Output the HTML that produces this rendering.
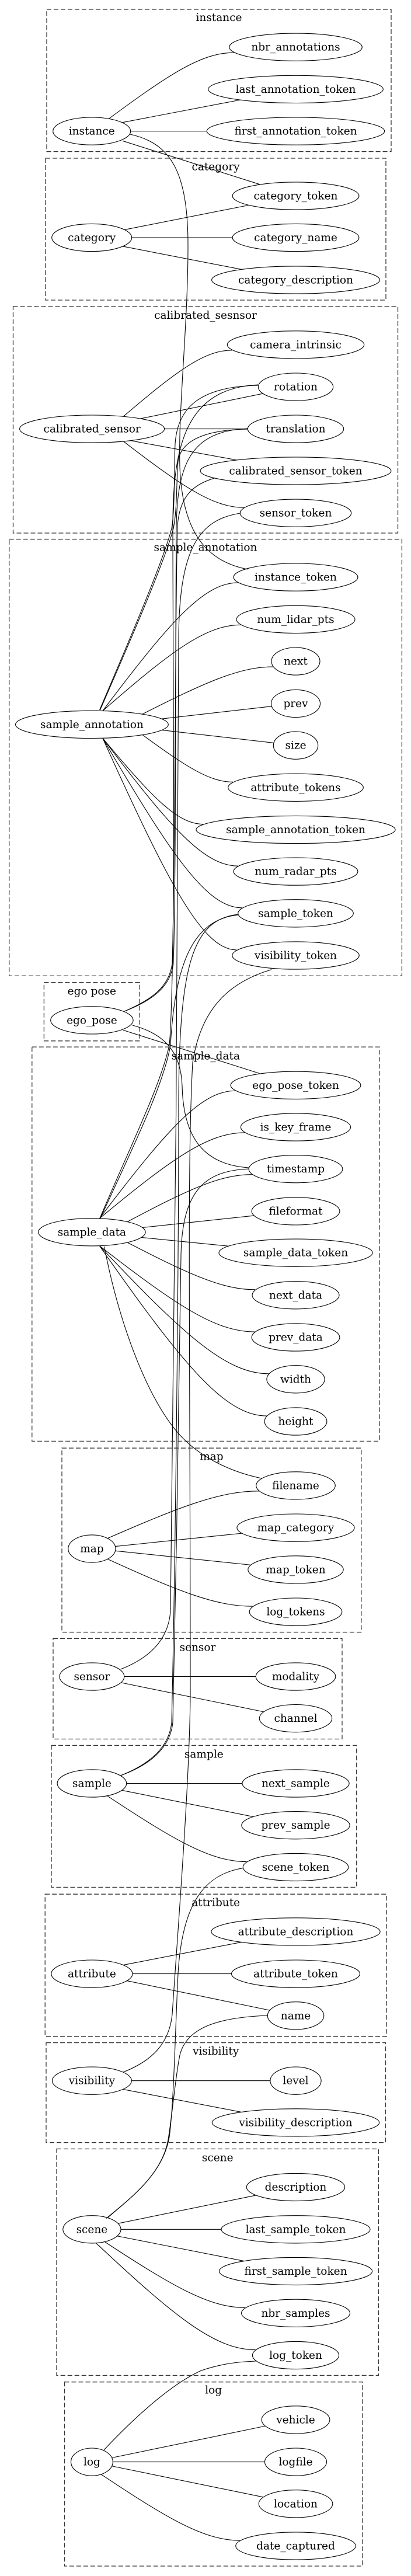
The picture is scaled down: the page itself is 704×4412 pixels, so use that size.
<!DOCTYPE html>
<html><head><meta charset="utf-8"><style>
html,body{margin:0;padding:0;background:#fff;}
svg{display:block;}
text{font-family:"DejaVu Serif","Liberation Serif",serif;font-size:18.5px;fill:#000;text-anchor:middle;}
.cl{fill:none;stroke:#333;stroke-width:1.3;stroke-dasharray:8,4;}
.n{fill:none;stroke:#000;stroke-width:1.1;}
.e{fill:none;stroke:#000;stroke-width:1.1;}
</style></head><body>
<svg id="s" width="704" height="4412" viewBox="0 0 704 4412" xmlns="http://www.w3.org/2000/svg">
<g id="edges">
<path class="e" d="M209.7,241.2 L444.6,315.7"/>
<path class="e" d="M223,230 C290,245 322,290 322,420 C322,560 305,700 308,800 C312,900 345,960 424,975"/>
<path class="e" d="M170.6,1216 C220,1100 280,960 294,905 C300,870 298,800 300,760 C304,700 340,662 442,660"/>
<path class="e" d="M171.5,1216 C222,1100 283,960 297,905 C304,870 302,820 305,790 C310,755 350,736 424.8,735"/>
<path class="e" d="M213.3,1732 C260,1712 290,1690 295,1650 C300,1500 296,1100 296,900 C296,760 320,665 442,659"/>
<path class="e" d="M213.3,1732 C262,1713 292,1690 297,1650 C302,1500 300,1100 302,900 C304,790 330,738 424.8,734"/>
<path class="e" d="M206.6,3041 C260,3020 290,2990 294,2950 C300,2700 306,2200 306,1900 C306,1650 330,1575 408,1566"/>
<path class="e" d="M206.6,3041 C262,3021 292,2990 296,2950 C302,2700 308,2300 310,2150 C312,2040 350,2005 426.6,2002"/>
<path class="e" d="M206.6,2859 C255,2840 288,2810 292,2760 C298,2400 306,1500 306,1100 C306,940 340,890 411.8,879"/>
<path class="e" d="M170.6,2087.6 C220,1970 275,1860 290,1790 C300,1700 300,1000 304,900 C308,850 330,830 368,818.7"/>
<path class="e" d="M171.5,2087.6 C225,1970 280,1860 292,1790 C300,1650 330,1575 408,1567"/>
<path class="e" d="M226.8,1756 C280,1770 310,1800 312,1860 C314,1950 350,1995 426.6,2000"/>
<path class="e" d="M178.7,2134.8 C200,2250 250,2400 314,2464 C350,2500 400,2522 448,2532"/>
<path class="e" d="M211,3549 C260,3530 290,3500 295,3450 C305,3300 325,3050 326,2900 C326,2300 320,2000 330,1820 C345,1720 400,1680 465,1660.6"/>
<path class="e" d="M184,3798.5 C230,3760 280,3720 290,3660 C298,3600 300,3480 305,3380 C312,3260 350,3210 416.7,3199.4"/>
<path class="e" d="M182,3799.5 C228,3762 278,3722 288,3665 C298,3600 300,3560 308,3520 C320,3470 380,3455 459,3452"/>
<path class="e" d="M177.4,4196.8 C240,4130 300,4080 345,4060 C380,4048 410,4045 437.8,4044"/>
<path class="e" d="M211,1764.4 L444.5,1838.5"/>
</g>
<rect class="cl" x="80" y="16" width="590" height="243.6"/><text x="375" y="36">instance</text>
<rect class="cl" x="78" y="271" width="583" height="243"/><text x="369.5" y="291.5">category</text>
<rect class="cl" x="22.5" y="525" width="659" height="388"/><text x="352" y="546">calibrated_sesnsor</text>
<rect class="cl" x="15.7" y="923.5" width="672.7" height="747.9"/><text x="352" y="943.6">sample_annotation</text>
<rect class="cl" x="75.4" y="1682.7" width="163.9" height="100.1"/><text x="157.3" y="1703.4">ego pose</text>
<rect class="cl" x="54.8" y="1793.2" width="595" height="675.2"/><text x="352.3" y="1814.3">sample_data</text>
<rect class="cl" x="106" y="2480.2" width="512.8" height="315.3"/><text x="362.4" y="2500.4">map</text>
<rect class="cl" x="91" y="2806.3" width="495" height="172.2"/><text x="338.5" y="2827.4">sensor</text>
<rect class="cl" x="88" y="2989.4" width="522.7" height="243"/><text x="349.3" y="3010.5">sample</text>
<rect class="cl" x="77.2" y="3244.2" width="585.1" height="243.5"/><text x="369.7" y="3264.4">attribute</text>
<rect class="cl" x="79" y="3498.6" width="581.5" height="171"/><text x="369.7" y="3519.2">visibility</text>
<rect class="cl" x="97" y="3680.5" width="551.4" height="387.9"/><text x="372.7" y="3701.6">scene</text>
<rect class="cl" x="110.5" y="4079.7" width="510.5" height="315.3"/><text x="365.7" y="4099.4">log</text>
<g>
<ellipse class="n" cx="157.2" cy="224.6" rx="66.5" ry="23.6"/><text x="157.2" y="230.6">instance</text>
<ellipse class="n" cx="506.5" cy="80.7" rx="113.8" ry="23.6"/><text x="506.5" y="86.7">nbr_annotations</text>
<ellipse class="n" cx="506.5" cy="152.9" rx="149.8" ry="23.6"/><text x="506.5" y="158.9">last_annotation_token</text>
<ellipse class="n" cx="506.5" cy="224.6" rx="152.2" ry="23.6"/><text x="506.5" y="230.6">first_annotation_token</text>
<ellipse class="n" cx="157.2" cy="407" rx="68.5" ry="23.6"/><text x="157.2" y="413">category</text>
<ellipse class="n" cx="506.5" cy="335.5" rx="108.4" ry="23.6"/><text x="506.5" y="341.5">category_token</text>
<ellipse class="n" cx="506.5" cy="407" rx="108.4" ry="23.6"/><text x="506.5" y="413">category_name</text>
<ellipse class="n" cx="506.5" cy="479.5" rx="143.9" ry="23.6"/><text x="506.5" y="485.5">category_description</text>
<ellipse class="n" cx="157.6" cy="734.6" rx="124" ry="23.6"/><text x="157.6" y="740.6">calibrated_sensor</text>
<ellipse class="n" cx="506.5" cy="590.4" rx="117.2" ry="23.6"/><text x="506.5" y="596.4">camera_intrinsic</text>
<ellipse class="n" cx="506.5" cy="662.6" rx="64.2" ry="23.6"/><text x="506.5" y="668.6">rotation</text>
<ellipse class="n" cx="506.5" cy="734.6" rx="82.2" ry="23.6"/><text x="506.5" y="740.6">translation</text>
<ellipse class="n" cx="506.5" cy="806.5" rx="163.4" ry="23.6"/><text x="506.5" y="812.5">calibrated_sensor_token</text>
<ellipse class="n" cx="506.5" cy="878.7" rx="95.2" ry="23.6"/><text x="506.5" y="884.7">sensor_token</text>
<ellipse class="n" cx="157.4" cy="1240.9" rx="130.9" ry="23.6"/><text x="157.4" y="1246.9">sample_annotation</text>
<ellipse class="n" cx="506.5" cy="988.6" rx="106.4" ry="23.6"/><text x="506.5" y="994.6">instance_token</text>
<ellipse class="n" cx="506.5" cy="1060.9" rx="101.5" ry="23.6"/><text x="506.5" y="1066.9">num_lidar_pts</text>
<ellipse class="n" cx="506.5" cy="1132.6" rx="41.5" ry="23.6"/><text x="506.5" y="1138.6">next</text>
<ellipse class="n" cx="506.5" cy="1205" rx="42" ry="23.6"/><text x="506.5" y="1211">prev</text>
<ellipse class="n" cx="506.5" cy="1276.7" rx="38.2" ry="23.6"/><text x="506.5" y="1282.7">size</text>
<ellipse class="n" cx="506.5" cy="1348.8" rx="115.8" ry="23.6"/><text x="506.5" y="1354.8">attribute_tokens</text>
<ellipse class="n" cx="506.5" cy="1421" rx="170.6" ry="23.6"/><text x="506.5" y="1427">sample_annotation_token</text>
<ellipse class="n" cx="506.5" cy="1492.6" rx="106.4" ry="23.6"/><text x="506.5" y="1498.6">num_radar_pts</text>
<ellipse class="n" cx="506.5" cy="1564.3" rx="98.8" ry="23.6"/><text x="506.5" y="1570.3">sample_token</text>
<ellipse class="n" cx="506.5" cy="1636.5" rx="108.7" ry="23.6"/><text x="506.5" y="1642.5">visibility_token</text>
<ellipse class="n" cx="157.4" cy="1747.4" rx="70.7" ry="23.6"/><text x="157.4" y="1753.4">ego_pose</text>
<ellipse class="n" cx="157.4" cy="2110.3" rx="91.8" ry="23.6"/><text x="157.4" y="2116.3">sample_data</text>
<ellipse class="n" cx="506.5" cy="1858.8" rx="111.4" ry="23.6"/><text x="506.5" y="1864.8">ego_pose_token</text>
<ellipse class="n" cx="506.5" cy="1930.5" rx="94.1" ry="23.6"/><text x="506.5" y="1936.5">is_key_frame</text>
<ellipse class="n" cx="506.5" cy="2002.2" rx="80.4" ry="23.6"/><text x="506.5" y="2008.2">timestamp</text>
<ellipse class="n" cx="506.5" cy="2074.4" rx="75.4" ry="23.6"/><text x="506.5" y="2080.4">fileformat</text>
<ellipse class="n" cx="506.5" cy="2145.7" rx="131.6" ry="23.6"/><text x="506.5" y="2151.7">sample_data_token</text>
<ellipse class="n" cx="506.5" cy="2218.3" rx="74.5" ry="23.6"/><text x="506.5" y="2224.3">next_data</text>
<ellipse class="n" cx="506.5" cy="2290.5" rx="75.4" ry="23.6"/><text x="506.5" y="2296.5">prev_data</text>
<ellipse class="n" cx="506.5" cy="2362.3" rx="49.6" ry="23.6"/><text x="506.5" y="2368.3">width</text>
<ellipse class="n" cx="506.5" cy="2434.5" rx="53.4" ry="23.6"/><text x="506.5" y="2440.5">height</text>
<ellipse class="n" cx="157.4" cy="2652.5" rx="40.6" ry="23.6"/><text x="157.4" y="2658.5">map</text>
<ellipse class="n" cx="506.5" cy="2544.4" rx="67.8" ry="23.6"/><text x="506.5" y="2550.4">filename</text>
<ellipse class="n" cx="506.5" cy="2616.6" rx="100.6" ry="23.6"/><text x="506.5" y="2622.6">map_category</text>
<ellipse class="n" cx="506.5" cy="2688.4" rx="81.7" ry="23.6"/><text x="506.5" y="2694.4">map_token</text>
<ellipse class="n" cx="506.5" cy="2760.6" rx="79.3" ry="23.6"/><text x="506.5" y="2766.6">log_tokens</text>
<ellipse class="n" cx="157.4" cy="2871.5" rx="55.5" ry="23.6"/><text x="157.4" y="2877.5">sensor</text>
<ellipse class="n" cx="506.5" cy="2871.5" rx="68.3" ry="23.6"/><text x="506.5" y="2877.5">modality</text>
<ellipse class="n" cx="506.5" cy="2943.1" rx="62.2" ry="23.6"/><text x="506.5" y="2949.1">channel</text>
<ellipse class="n" cx="157.4" cy="3054.5" rx="59.3" ry="23.6"/><text x="157.4" y="3060.5">sample</text>
<ellipse class="n" cx="506.5" cy="3054.5" rx="91.6" ry="23.6"/><text x="506.5" y="3060.5">next_sample</text>
<ellipse class="n" cx="506.5" cy="3126.2" rx="92.7" ry="23.6"/><text x="506.5" y="3132.2">prev_sample</text>
<ellipse class="n" cx="506.5" cy="3198" rx="90.3" ry="23.6"/><text x="506.5" y="3204">scene_token</text>
<ellipse class="n" cx="157.4" cy="3380.6" rx="69.6" ry="23.6"/><text x="157.4" y="3386.6">attribute</text>
<ellipse class="n" cx="506.5" cy="3308.4" rx="144.6" ry="23.6"/><text x="506.5" y="3314.4">attribute_description</text>
<ellipse class="n" cx="506.5" cy="3380.6" rx="110" ry="23.6"/><text x="506.5" y="3386.6">attribute_token</text>
<ellipse class="n" cx="506.5" cy="3452.3" rx="48.3" ry="23.6"/><text x="506.5" y="3458.3">name</text>
<ellipse class="n" cx="157.4" cy="3563.7" rx="68" ry="23.6"/><text x="157.4" y="3569.7">visibility</text>
<ellipse class="n" cx="506.5" cy="3563.7" rx="43.6" ry="23.6"/><text x="506.5" y="3569.7">level</text>
<ellipse class="n" cx="506.5" cy="3635.4" rx="143.2" ry="23.6"/><text x="506.5" y="3641.4">visibility_description</text>
<ellipse class="n" cx="157.4" cy="3818.3" rx="49.6" ry="23.6"/><text x="157.4" y="3824.3">scene</text>
<ellipse class="n" cx="506.5" cy="3746" rx="84.2" ry="23.6"/><text x="506.5" y="3752">description</text>
<ellipse class="n" cx="506.5" cy="3818.3" rx="127.5" ry="23.6"/><text x="506.5" y="3824.3">last_sample_token</text>
<ellipse class="n" cx="506.5" cy="3890" rx="131.1" ry="23.6"/><text x="506.5" y="3896">first_sample_token</text>
<ellipse class="n" cx="506.5" cy="3961.8" rx="93" ry="23.6"/><text x="506.5" y="3967.8">nbr_samples</text>
<ellipse class="n" cx="506.5" cy="4034" rx="74.1" ry="23.6"/><text x="506.5" y="4040">log_token</text>
<ellipse class="n" cx="157.4" cy="4216.6" rx="35.9" ry="23.6"/><text x="157.4" y="4222.6">log</text>
<ellipse class="n" cx="506.5" cy="4144.4" rx="58.4" ry="23.6"/><text x="506.5" y="4150.4">vehicle</text>
<ellipse class="n" cx="506.5" cy="4216.6" rx="53" ry="23.6"/><text x="506.5" y="4222.6">logfile</text>
<ellipse class="n" cx="506.5" cy="4288.3" rx="63.3" ry="23.6"/><text x="506.5" y="4294.3">location</text>
<ellipse class="n" cx="506.5" cy="4360.5" rx="102.8" ry="23.6"/><text x="506.5" y="4366.5">date_captured</text>
</g>
</svg>
<script>
(function(){
var RY=23.6, RX=506.5, LX=157.4;
var C=[
 [224.6,66.5,[[80.7,113.8],[152.9,149.8],[224.6,152.2]]],
 [407,68.5,[[335.5,108.4],[407,108.4],[479.5,143.9]]],
 [734.6,124,[[590.4,117.2],[662.6,64.2],[734.6,82.2],[806.5,163.4],[878.7,95.2]]],
 [1240.9,130.9,[[988.6,106.4],[1060.9,101.5],[1132.6,41.5],[1205,42],[1276.7,38.2],[1348.8,115.8],[1421,170.6],[1492.6,106.4],[1564.3,98.8],[1636.5,108.7]]],
 [2110.3,91.8,[[1858.8,111.4],[1930.5,94.1],[2002.2,80.4],[2074.4,75.4],[2145.7,131.6],[2218.3,74.5],[2290.5,75.4],[2362.3,49.6],[2434.5,53.4]]],
 [2652.5,40.6,[[2544.4,67.8],[2616.6,100.6],[2688.4,81.7],[2760.6,79.3]]],
 [2871.5,55.5,[[2871.5,68.3],[2943.1,62.2]]],
 [3054.5,59.3,[[3054.5,91.6],[3126.2,92.7],[3198,90.3]]],
 [3380.6,69.6,[[3308.4,144.6],[3380.6,110],[3452.3,48.3]]],
 [3563.7,68,[[3563.7,43.6],[3635.4,143.2]]],
 [3818.3,49.6,[[3746,84.2],[3818.3,127.5],[3890,131.1],[3961.8,93],[4034,74.1]]],
 [4216.6,35.9,[[4144.4,58.4],[4216.6,53],[4288.3,63.3],[4360.5,102.8]]]
];
var g=document.getElementById('edges'),ns='http://www.w3.org/2000/svg';
function add(d){var p=document.createElementNS(ns,'path');p.setAttribute('class','e');p.setAttribute('d',d);g.appendChild(p);}
C.forEach(function(c){
 var yl=c[0],rl=c[1];
 c[2].forEach(function(r){
  var yr=r[0],rr=r[1],dy=yr-yl,k=Math.abs(dy)/72,sg=dy<0?-1:1;
  if(k<0.1){add('M'+(LX+rl)+','+yl+' L'+(RX-rr)+','+yr);return;}
  if(k<=1.05){
   var tx=RX-rr*0.9, ty=yr-sg*RY*0.45;
   var ang=Math.atan2((ty-yl)/RY,(tx-LX)/rl);
   var sx=LX+rl*Math.cos(ang), sy=yl+RY*Math.sin(ang);
   var a2=Math.atan2((sy-yr)/RY,(sx-RX)/rr);
   var ex=RX+rr*Math.cos(a2), ey=yr+RY*Math.sin(a2);
   add('M'+sx+','+sy+' L'+ex+','+ey);return;
  }
  var s=Math.min(0.99,0.3+0.3*k), co=Math.sqrt(1-s*s);
  var x0=LX+rl*co, y0=yl+sg*RY*s;
  var x3=RX-rr*0.93, y3=yr-sg*RY*0.4;
  var dx=x3-x0, dd=y3-y0;
  add('M'+x0+','+y0+' C'+(x0+0.5*dx)+','+(y0+0.7*dd)+' '+(x0+0.75*dx)+','+(y0+dd)+' '+x3+','+y3);
 });
});
})();
</script>
</body></html>
